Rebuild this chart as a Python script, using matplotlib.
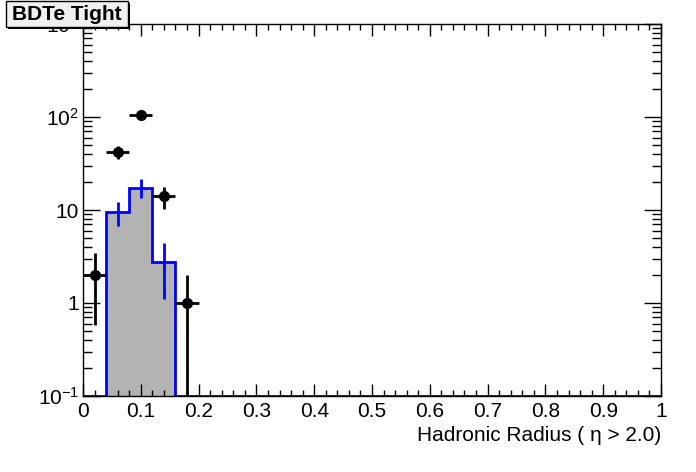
import matplotlib.pyplot as plt
import numpy as np
from matplotlib.patches import Rectangle
from matplotlib.ticker import LogLocator, MultipleLocator, FixedLocator, NullFormatter

plt.rcParams['font.family'] = ['Liberation Sans', 'DejaVu Sans']
plt.rcParams['mathtext.fontset'] = 'custom'
plt.rcParams['mathtext.rm'] = 'Liberation Sans'
plt.rcParams['mathtext.it'] = 'Liberation Sans'
plt.rcParams['axes.unicode_minus'] = False

# histogram binning: 25 bins from 0 to 1
bin_edges = np.linspace(0, 1, 26)
# MC (filled) histogram contents, only first bins non-zero
mc_vals = [0, 9.5, 17.4, 2.75] + [0] * 21
mc_err = [0, 2.7, 4.0, 1.65] + [0] * 21

# data points
data_x = [0.02, 0.06, 0.10, 0.14, 0.18]
data_y = [2, 42, 104, 14, 1]
data_err = [1.42, 6.6, 10.2, 3.8, 1.0]

xtick_labels = ["0", "0.1", "0.2", "0.3", "0.4", "0.5", "0.6", "0.7", "0.8", "0.9", "1"]
ytick_vals = [0.1, 1, 10, 100, 1000]
ytick_labels = ["$10^{-1}$", "1", "10", "$10^{2}$", "$10^{3}$"]

ymin, ymax = 0.1, 1000
W, H = 696, 472

fig = plt.figure(figsize=(6.96, 4.72), dpi=100)
ax = fig.add_axes([83 / W, 1 - 396 / H, (661 - 83) / W, (396 - 24) / H])

# filled histogram
vals = np.clip(np.array(mc_vals, dtype=float), ymin, None)
ax.stairs(vals, bin_edges, baseline=ymin, fill=True, color="#b3b3b3", zorder=1)
ax.stairs(vals, bin_edges, baseline=None, color="blue", lw=2, zorder=2)
centers = 0.5 * (bin_edges[:-1] + bin_edges[1:])
nz = np.array(mc_vals) > 0
ax.errorbar(centers[nz], np.array(mc_vals)[nz], yerr=np.array(mc_err)[nz],
            fmt="none", ecolor="blue", elinewidth=2, capsize=0, zorder=3)

# data
lo = np.minimum(np.array(data_err), np.array(data_y) - ymin * 1.0001)
ax.errorbar(data_x, data_y, yerr=[lo, data_err], xerr=0.02, fmt="o", color="black",
            ms=7, elinewidth=2, capsize=0, zorder=4)

ax.set_yscale("log")
ax.set_xlim(0, 1)
ax.set_ylim(ymin, ymax)

ax.set_xticks(np.arange(0, 1.01, 0.1))
ax.set_xticklabels(xtick_labels)
ax.xaxis.set_minor_locator(MultipleLocator(0.02))
ax.yaxis.set_major_locator(FixedLocator(ytick_vals))
ax.set_yticklabels(ytick_labels)
ax.yaxis.set_minor_locator(LogLocator(base=10, subs=np.arange(2, 10), numticks=20))
ax.yaxis.set_minor_formatter(NullFormatter())

ax.tick_params(which="both", direction="in", top=True, right=True, labelsize=15, width=1)
ax.tick_params(which="major", axis="x", length=8.6, pad=4)
ax.tick_params(which="minor", axis="x", length=4.3)
ax.tick_params(which="major", axis="y", length=12, pad=3)
ax.tick_params(which="minor", axis="y", length=6.5)
for s in ax.spines.values():
    s.set_linewidth(1)

ax.set_xlabel("Hadronic Radius ( η > 2.0)", fontsize=15, loc="right", labelpad=4)

# title box with shadow, like ROOT's TPaveText
fig.patches.append(Rectangle((8 / W, 1 - 29 / H), 122 / W, 26 / H, transform=fig.transFigure,
                             fc="black", ec="none", zorder=5))
fig.patches.append(Rectangle((6 / W, 1 - 27 / H), 122 / W, 26 / H, transform=fig.transFigure,
                             fc="#f0f0f0", ec="black", lw=1, zorder=6))
fig.text(67 / W, 1 - 14.5 / H, "BDTe Tight", fontsize=15, fontweight="bold",
         ha="center", va="center", zorder=7)

fig.savefig("out.png", dpi=100)
